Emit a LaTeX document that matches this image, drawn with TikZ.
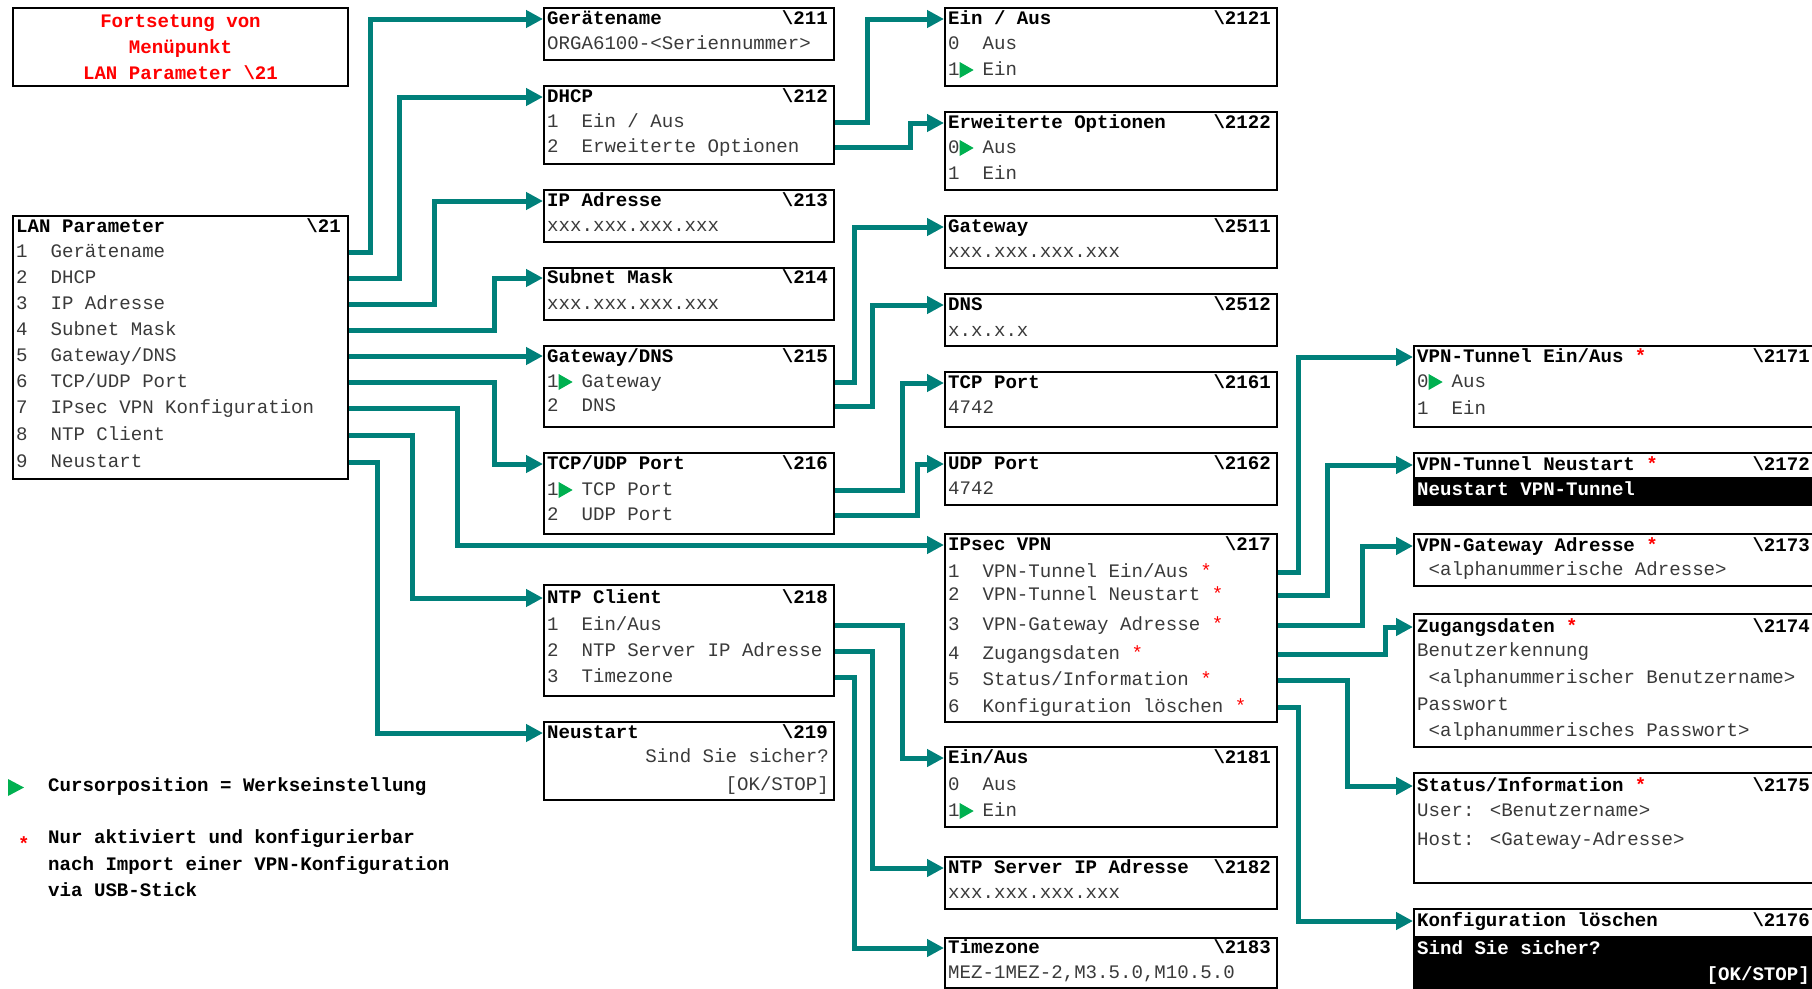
\documentclass[tikz,border=0pt]{standalone}
\usepackage{fontspec}
\setmainfont{Liberation Mono}
\setmonofont{Liberation Mono}
\usepackage{xcolor}
\usepackage{tikz}
\usetikzlibrary{arrows.meta}
\definecolor{linkteal}{HTML}{00807A}
\definecolor{curgreen}{HTML}{00B050}
\definecolor{itemgray}{HTML}{3A3A3A}
\definecolor{markred}{HTML}{FF0000}
\newcommand{\cursor}{\makebox[0.6em][l]{\tikz[baseline=0pt]\fill[curgreen] (1pt,-2.5pt) -- (1pt,13.5pt) -- (15pt,5.5pt) -- cycle;}}
\newcommand{\vpnmark}{\textcolor{markred}{*}}
\newcommand{\mkey}[1]{\textbackslash#1}
\tikzset{
  menubox/.style={draw, line width=2pt, anchor=north west, inner sep=0pt, fill=white},
  ttl/.style={anchor=west, inner sep=0pt, font=\bfseries, text height=11pt, text depth=0pt},
  key/.style={anchor=east, inner sep=0pt, font=\bfseries, text height=11pt, text depth=0pt},
  itm/.style={anchor=west, inner sep=0pt, text=itemgray, text height=11pt, text depth=0pt},
  itmr/.style={itm, anchor=east},
  band/.style={ttl, text=white},
  link/.style={draw=linkteal, line width=5pt, -{Triangle[length=17pt, width=17pt]}}
}
\begin{document}
\fontsize{19.1pt}{26pt}\selectfont
\begin{tikzpicture}[x=1pt, y=-1pt]
  \useasboundingbox (0,0) rectangle (1812,988);

  % -- column 1: the note and the LAN menu ---------------------------------
  \node[menubox, minimum width=335pt, minimum height=78pt, align=center,
        font=\bfseries, text=markred] (cont) at (12,7)
        {Fortsetung von\\Menüpunkt\\LAN Parameter \mkey{21}};
  \node[menubox, minimum width=335pt, minimum height=263pt] (lan) at (12,215) {};
  \node[ttl] (tlan) at (16,227) {LAN Parameter};
  \node[key] at (341,227) {\mkey{21}};
  \foreach \i/\yy/\txt in {1/252/{Gerätename}, 2/278/{DHCP}, 3/304/{IP Adresse},
                           4/330/{Subnet Mask}, 5/356/{Gateway/DNS}, 6/382/{TCP/UDP Port},
                           7/408/{IPsec VPN Konfiguration}, 8/435/{NTP Client}, 9/462/{Neustart}}{
    \node[itm] (lan\i) at (16,\yy) {\i\ \ \txt};}

  % -- column 2 -------------------------------------------------------------
  \node[menubox, minimum width=290pt, minimum height=52pt] (b211) at (543,7) {};
  \node[ttl] (t211) at (547,19) {Gerätename};
  \node[key] at (828,19) {\mkey{211}};
  \node[itm] (r211) at (547,44) {ORGA6100-<Seriennummer>};

  \node[menubox, minimum width=290pt, minimum height=78pt] (b212) at (543,85) {};
  \node[ttl] (t212) at (547,97) {DHCP};
  \node[key] at (828,97) {\mkey{212}};
  \node[itm] (r212a) at (547,122) {1\ \ Ein / Aus};
  \node[itm] (r212b) at (547,147) {2\ \ Erweiterte Optionen};

  \node[menubox, minimum width=290pt, minimum height=52pt] (b213) at (543,189) {};
  \node[ttl] (t213) at (547,201) {IP Adresse};
  \node[key] at (828,201) {\mkey{213}};
  \node[itm] (r213) at (547,226) {xxx.xxx.xxx.xxx};

  \node[menubox, minimum width=290pt, minimum height=52pt] (b214) at (543,267) {};
  \node[ttl] (t214) at (547,278) {Subnet Mask};
  \node[key] at (828,278) {\mkey{214}};
  \node[itm] (r214) at (547,304) {xxx.xxx.xxx.xxx};

  \node[menubox, minimum width=290pt, minimum height=81pt] (b215) at (543,345) {};
  \node[ttl] (t215) at (547,357) {Gateway/DNS};
  \node[key] at (828,357) {\mkey{215}};
  \node[itm] (r215a) at (547,382) {1\cursor\ Gateway};
  \node[itm] (r215b) at (547,406) {2\ \ DNS};

  \node[menubox, minimum width=290pt, minimum height=81pt] (b216) at (543,452) {};
  \node[ttl] (t216) at (547,464) {TCP/UDP Port};
  \node[key] at (828,464) {\mkey{216}};
  \node[itm] (r216a) at (547,490) {1\cursor\ TCP Port};
  \node[itm] (r216b) at (547,515) {2\ \ UDP Port};

  \node[menubox, minimum width=290pt, minimum height=111pt] (b218) at (543,584) {};
  \node[ttl] (t218) at (547,598) {NTP Client};
  \node[key] at (828,598) {\mkey{218}};
  \node[itm] (r218a) at (547,625) {1\ \ Ein/Aus};
  \node[itm] (r218b) at (547,651) {2\ \ NTP Server IP Adresse};
  \node[itm] (r218c) at (547,677) {3\ \ Timezone};

  \node[menubox, minimum width=290pt, minimum height=78pt] (b219) at (543,721) {};
  \node[ttl] (t219) at (547,733) {Neustart};
  \node[key] at (828,733) {\mkey{219}};
  \node[itmr] (r219a) at (829,757) {Sind Sie sicher?};
  \node[itmr] (r219b) at (829,785) {[OK/STOP]};

  % -- column 3 -------------------------------------------------------------
  \node[menubox, minimum width=332pt, minimum height=78pt] (b2121) at (944,7) {};
  \node[ttl] (t2121) at (948,19) {Ein / Aus};
  \node[key] at (1271,19) {\mkey{2121}};
  \node[itm] (r2121a) at (948,44) {0\ \ Aus};
  \node[itm] (r2121b) at (948,70) {1\cursor\ Ein};

  \node[menubox, minimum width=332pt, minimum height=78pt] (b2122) at (944,111) {};
  \node[ttl] (t2122) at (948,123) {Erweiterte Optionen};
  \node[key] at (1271,123) {\mkey{2122}};
  \node[itm] (r2122a) at (948,148) {0\cursor\ Aus};
  \node[itm] (r2122b) at (948,174) {1\ \ Ein};

  \node[menubox, minimum width=332pt, minimum height=52pt] (b2511) at (944,215) {};
  \node[ttl] (t2511) at (948,227) {Gateway};
  \node[key] at (1271,227) {\mkey{2511}};
  \node[itm] (r2511) at (948,252) {xxx.xxx.xxx.xxx};

  \node[menubox, minimum width=332pt, minimum height=52pt] (b2512) at (944,293) {};
  \node[ttl] (t2512) at (948,305) {DNS};
  \node[key] at (1271,305) {\mkey{2512}};
  \node[itm] (r2512) at (948,331) {x.x.x.x};

  \node[menubox, minimum width=332pt, minimum height=55pt] (b2161) at (944,371) {};
  \node[ttl] (t2161) at (948,383) {TCP Port};
  \node[key] at (1271,383) {\mkey{2161}};
  \node[itm] (r2161) at (948,408) {4742};

  \node[menubox, minimum width=332pt, minimum height=52pt] (b2162) at (944,452) {};
  \node[ttl] (t2162) at (948,464) {UDP Port};
  \node[key] at (1271,464) {\mkey{2162}};
  \node[itm] (r2162) at (948,489) {4742};

  \node[menubox, minimum width=332pt, minimum height=188pt] (b217) at (944,533) {};
  \node[ttl] (t217) at (948,545) {IPsec VPN};
  \node[key] at (1271,545) {\mkey{217}};
  \foreach \n/\yy/\txt in {a/572/{1\ \ VPN-Tunnel Ein/Aus}, b/595/{2\ \ VPN-Tunnel Neustart},
                           c/625/{3\ \ VPN-Gateway Adresse}, d/654/{4\ \ Zugangsdaten},
                           e/680/{5\ \ Status/Information}, f/707/{6\ \ Konfiguration löschen}}{
    \node[itm] (r217\n) at (948,\yy) {\txt\ \vpnmark};}

  \node[menubox, minimum width=332pt, minimum height=80pt] (b2181) at (944,746) {};
  \node[ttl] (t2181) at (948,758) {Ein/Aus};
  \node[key] at (1271,758) {\mkey{2181}};
  \node[itm] (r2181a) at (948,785) {0\ \ Aus};
  \node[itm] (r2181b) at (948,811) {1\cursor\ Ein};

  \node[menubox, minimum width=332pt, minimum height=52pt] (b2182) at (944,856) {};
  \node[ttl] (t2182) at (948,868) {NTP Server IP Adresse};
  \node[key] at (1271,868) {\mkey{2182}};
  \node[itm] (r2182) at (948,893) {xxx.xxx.xxx.xxx};

  \node[menubox, minimum width=332pt, minimum height=50pt] (b2183) at (944,937) {};
  \node[ttl] (t2183) at (948,948) {Timezone};
  \node[key] at (1271,948) {\mkey{2183}};
  \node[itm] (r2183) at (948,973) {MEZ-1MEZ-2,M3.5.0,M10.5.0};

  % -- column 4: runs over the right edge of the page -----------------------
  \node[menubox, minimum width=402pt, minimum height=81pt] (b2171) at (1413,345) {};
  \node[ttl] (t2171) at (1417,357) {VPN-Tunnel Ein/Aus \vpnmark};
  \node[key] at (1810,357) {\mkey{2171}};
  \node[itm] (r2171a) at (1417,382) {0\cursor\ Aus};
  \node[itm] (r2171b) at (1417,409) {1\ \ Ein};

  \node[menubox, minimum width=402pt, minimum height=52pt] (b2172) at (1413,452) {};
  \fill (1413,477) rectangle (1815,504);
  \node[ttl] (t2172) at (1417,465) {VPN-Tunnel Neustart \vpnmark};
  \node[key] at (1810,465) {\mkey{2172}};
  \node[band] (r2172) at (1417,490) {Neustart VPN-Tunnel};

  \node[menubox, minimum width=402pt, minimum height=52pt] (b2173) at (1413,533) {};
  \node[ttl] (t2173) at (1417,546) {VPN-Gateway Adresse \vpnmark};
  \node[key] at (1810,546) {\mkey{2173}};
  \node[itm] (r2173) at (1417,570) {\ <alphanummerische Adresse>};

  \node[menubox, minimum width=402pt, minimum height=133pt] (b2174) at (1413,613) {};
  \node[ttl] (t2174) at (1417,627) {Zugangsdaten \vpnmark};
  \node[key] at (1810,627) {\mkey{2174}};
  \node[itm] (r2174a) at (1417,651) {Benutzerkennung};
  \node[itm] (r2174b) at (1417,678) {\ <alphanummerischer Benutzername>};
  \node[itm] (r2174c) at (1417,705) {Passwort};
  \node[itm] (r2174d) at (1417,731) {\ <alphanummerisches Passwort>};

  \node[menubox, minimum width=402pt, minimum height=110pt] (b2175) at (1413,772) {};
  \node[ttl] (t2175) at (1417,786) {Status/Information \vpnmark};
  \node[key] at (1810,786) {\mkey{2175}};
  \node[itm] (r2175a) at (1417,811) {User: <Benutzername>};
  \node[itm] (r2175b) at (1417,840) {Host: <Gateway-Adresse>};

  \node[menubox, minimum width=402pt, minimum height=82pt] (b2176) at (1413,908) {};
  \fill (1413,936) rectangle (1815,990);
  \node[ttl] (t2176) at (1417,921) {Konfiguration löschen};
  \node[key] at (1810,921) {\mkey{2176}};
  \node[band] (r2176a) at (1417,949) {Sind Sie sicher?};
  \node[band, anchor=east] (r2176b) at (1810,975) {[OK/STOP]};

  % -- legend ---------------------------------------------------------------
  \fill[curgreen] (8,779) -- (8,796) -- (24,787.5) -- cycle;
  \node[ttl] (legcur) at (48,786) {Cursorposition = Werkseinstellung};
  \node[ttl, text=markred] (legmark) at (18,845) {*};
  \node[ttl] (legvpn1) at (48,838) {Nur aktiviert und konfigurierbar};
  \node[ttl] (legvpn2) at (48,865) {nach Import einer VPN-Konfiguration};
  \node[ttl] (legvpn3) at (48,891) {via USB-Stick};

  % -- connectors: out of a row, up or down, into the next title ------------
  \draw[link] (lan.east |- lan1) -- ++(21,0) |- (b211.west |- t211);
  \draw[link] (lan.east |- lan2) -- ++(50,0) |- (b212.west |- t212);
  \draw[link] (lan.east |- lan3) -- ++(85,0) |- (b213.west |- t213);
  \draw[link] (lan.east |- lan4) -- ++(145,0) |- (b214.west |- t214);
  \draw[link] (lan.east |- lan5) -- (b215.west |- lan5);
  \draw[link] (lan.east |- lan6) -- ++(145,0) |- (b216.west |- t216);
  \draw[link] (lan.east |- lan7) -- ++(108,0) |- (b217.west |- t217);
  \draw[link] (lan.east |- lan8) -- ++(63,0) |- (b218.west |- t218);
  \draw[link] (lan.east |- lan9) -- ++(28,0) |- (b219.west |- t219);

  \draw[link] (b212.east |- r212a) -- ++(32,0) |- (b2121.west |- t2121);
  \draw[link] (b212.east |- r212b) -- ++(75,0) |- (b2122.west |- t2122);
  \draw[link] (b215.east |- r215a) -- ++(19,0) |- (b2511.west |- t2511);
  \draw[link] (b215.east |- r215b) -- ++(37,0) |- (b2512.west |- t2512);
  \draw[link] (b216.east |- r216a) -- ++(67,0) |- (b2161.west |- t2161);
  \draw[link] (b216.east |- r216b) -- ++(82,0) |- (b2162.west |- t2162);
  \draw[link] (b218.east |- r218a) -- ++(67,0) |- (b2181.west |- t2181);
  \draw[link] (b218.east |- r218b) -- ++(37,0) |- (b2182.west |- t2182);
  \draw[link] (b218.east |- r218c) -- ++(19,0) |- (b2183.west |- t2183);

  \draw[link] (b217.east |- r217a) -- ++(20,0) |- (b2171.west |- t2171);
  \draw[link] (b217.east |- r217b) -- ++(49,0) |- (b2172.west |- t2172);
  \draw[link] (b217.east |- r217c) -- ++(84,0) |- (b2173.west |- t2173);
  \draw[link] (b217.east |- r217d) -- ++(107,0) |- (b2174.west |- t2174);
  \draw[link] (b217.east |- r217e) -- ++(69,0) |- (b2175.west |- t2175);
  \draw[link] (b217.east |- r217f) -- ++(20,0) |- (b2176.west |- t2176);

\end{tikzpicture}
\end{document}
